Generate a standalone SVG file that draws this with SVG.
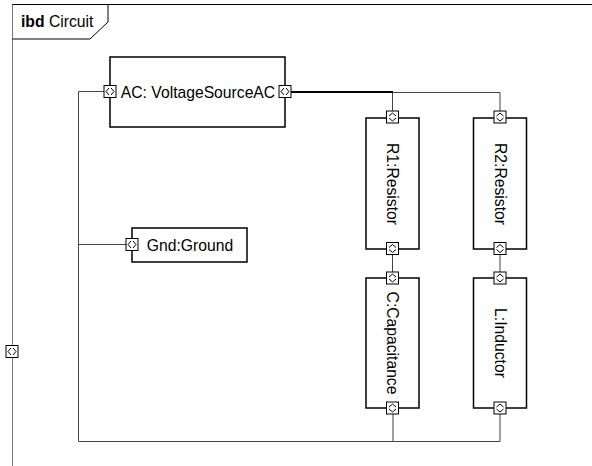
<svg xmlns="http://www.w3.org/2000/svg" xmlns:xlink="http://www.w3.org/1999/xlink" width="592" height="466" viewBox="0 0 592 466">
<style>
.box{fill:#fff;stroke:#000;stroke-width:1.5}
.port{fill:#fff;stroke:#000;stroke-width:1}
.glyph{fill:none;stroke:#000;stroke-width:1}
.conn{fill:none;stroke:#444;stroke-width:1}
.lbl{font-family:"Liberation Sans",Arial,sans-serif;font-size:15.7px;fill:#000}
</style>
<defs>
<g id="pH">
<rect class="port" x="-6" y="-6" width="12" height="12"/>
<path class="glyph" d="M-1,-3.5 L-4,0 L-1,3.5 M1,-3.5 L4,0 L1,3.5"/>
</g>
<g id="pV">
<rect class="port" x="-6" y="-6" width="12" height="12"/>
<path class="glyph" d="M-3.5,-1 L0,-4 L3.5,-1 M-3.5,1 L0,4 L3.5,1"/>
</g>
</defs>
<rect width="592" height="466" fill="#fff"/>
<g id="frame">
<path d="M12,4.5 H592" fill="none" stroke="#000" stroke-width="1"/>
<path d="M12.5,4.5 V466" fill="none" stroke="#777" stroke-width="1"/>
<path d="M12.5,39 H90 L108,22 V4.5" fill="none" stroke="#000" stroke-width="1"/>
<text class="lbl" x="21" y="27"><tspan font-weight="bold">ibd</tspan> Circuit</text>
<use href="#pH" x="12" y="351.5"/>
</g>
<g id="connectors">
<path class="conn" d="M104,91.5 H78.5 V441.5 H500 V414"/>
<path class="conn" d="M393,414 V441.5"/>
<path class="conn" d="M78.5,244.5 H126"/>
<path d="M291,92 H393" fill="none" stroke="#000" stroke-width="2"/>
<path class="conn" d="M393,92.5 H500 V111"/>
<path class="conn" d="M392.5,92.5 V111"/>
<path class="conn" d="M392.5,255 V272"/>
<path class="conn" d="M500,255 V272"/>
</g>
<g id="AC">
<rect class="box" x="110" y="57" width="175" height="70"/>
<text class="lbl" x="198" y="92" text-anchor="middle" dominant-baseline="central">AC: VoltageSourceAC</text>
<use href="#pH" x="110" y="91.5"/>
<use href="#pH" x="285" y="91.5"/>
</g>
<g id="Gnd">
<rect class="box" x="132" y="228" width="115" height="34"/>
<text class="lbl" x="190" y="245" text-anchor="middle" dominant-baseline="central">Gnd:Ground</text>
<use href="#pH" x="132" y="244.5"/>
</g>
<g id="R1">
<rect class="box" x="366" y="118" width="53" height="131"/>
<text class="lbl" text-anchor="middle" dominant-baseline="central" transform="translate(392.5,184) rotate(90)">R1:Resistor</text>
<use href="#pV" x="392.5" y="117"/>
<use href="#pV" x="392.5" y="248.5"/>
</g>
<g id="R2">
<rect class="box" x="473.5" y="118" width="53" height="131"/>
<text class="lbl" text-anchor="middle" dominant-baseline="central" transform="translate(500,184) rotate(90)">R2:Resistor</text>
<use href="#pV" x="500" y="117"/>
<use href="#pV" x="500" y="248.5"/>
</g>
<g id="C">
<rect class="box" x="366" y="278" width="53" height="130"/>
<text class="lbl" text-anchor="middle" dominant-baseline="central" transform="translate(392.5,343) rotate(90)">C:Capacitance</text>
<use href="#pV" x="392.5" y="278"/>
<use href="#pV" x="392.5" y="408"/>
</g>
<g id="L">
<rect class="box" x="473.5" y="278" width="53" height="130"/>
<text class="lbl" text-anchor="middle" dominant-baseline="central" transform="translate(500,343) rotate(90)">L:Inductor</text>
<use href="#pV" x="500" y="278"/>
<use href="#pV" x="500" y="408"/>
</g>
</svg>
